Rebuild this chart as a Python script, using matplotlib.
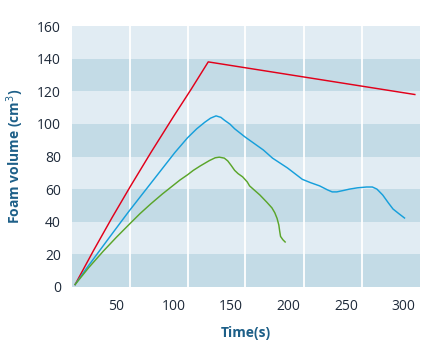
import matplotlib
matplotlib.use("Agg")
import matplotlib.pyplot as plt

plt.rcParams['font.family'] = ['Open Sans', 'DejaVu Sans']

# foam volume curves, time in s, volume in cm3
red_t = [14, 30, 46, 62, 80, 100, 115, 130, 310]
red_v = [1.5, 22.3, 42.3, 61.5, 82.4, 104.8, 121.1, 138, 118]

blue_t = [14, 24, 34, 44, 53, 61, 71, 81, 91, 101, 112, 120, 127, 132, 136.8, 141, 144,
          149, 153, 162, 170, 178, 186, 199, 212, 219, 227, 234, 238, 242, 248, 253, 260,
          268, 273, 277, 282, 287, 291, 296, 301]
blue_v = [1.5, 11.5, 21, 30.5, 39, 46.5, 55.5, 64.5, 73.5, 82.5, 91.5, 97, 101, 103.5, 104.9,
          104, 102.3, 99.8, 97, 92, 88, 84, 79, 73, 66, 64, 62, 59.5, 58.3, 58.3, 59.2, 60,
          60.8, 61.3, 61.3, 60, 56.4, 51.5, 47.8, 45, 42.3]

green_t = [14, 26, 38.6, 50, 62.7, 70.6, 80, 90, 105.4, 111.8, 117, 123, 131, 136, 139.6,
           144, 147, 150, 153, 156, 160, 164, 166, 170, 175, 181, 185.5, 188, 190, 191.5,
           192.3, 193, 195, 197]
green_v = [1.5, 12, 22, 30.5, 39.5, 45, 51, 57, 65.6, 68.7, 71.5, 74.2, 77.5, 79.2, 79.6,
           79, 77.3, 74.5, 71.5, 69.5, 67.5, 64.4, 62, 59.5, 56.4, 52, 48.5, 45.5, 42, 38,
           34, 31, 29, 27.6]

y_ticks = [0, 20, 40, 60, 80, 100, 120, 140, 160]
x_ticks = [50, 100, 150, 200, 250, 300]
x_grid = [62, 112, 162, 213, 264]

light = '#e1ecf3'
dark = '#c3dbe6'
label_col = '#1d5f88'

fig = plt.figure(figsize=(4.32, 3.42), dpi=100)
ax = fig.add_axes([72/432, 1 - 287/342, 348/432, 261/342])
ax.set_xlim(11.3, 314.5)
ax.set_ylim(0, 160)

# alternating horizontal bands
for i in range(8):
    ax.axhspan(i*20, (i+1)*20, color=dark if i % 2 == 0 else light, lw=0, zorder=0)
for g in x_grid:
    ax.axvline(g, color='white', lw=1.3, zorder=1)

ax.plot(red_t, red_v, color='#e2001a', lw=1.05, zorder=3)
ax.plot(blue_t, blue_v, color='#169fdb', lw=1.05, zorder=3)
ax.plot(green_t, green_v, color='#5aa52a', lw=1.05, zorder=3)

for s in ax.spines.values():
    s.set_visible(False)
ax.set_yticks(y_ticks)
ax.set_xticks(x_ticks)
ax.tick_params(length=0, labelsize=10, labelcolor='#1e2a3a')
ax.tick_params(axis='y', pad=8)
ax.tick_params(axis='x', pad=9)

ax.set_ylabel('Foam volume (cm$^3$)', fontsize=10, fontweight='bold', color=label_col, labelpad=8)
ax.set_xlabel('Time(s)', fontsize=10, fontweight='bold', color=label_col, labelpad=8)

fig.savefig('out.png', dpi=100)
